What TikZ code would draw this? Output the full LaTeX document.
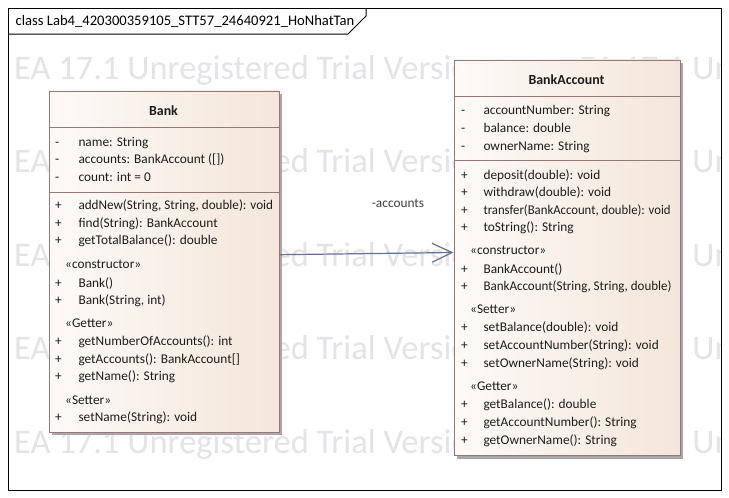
\documentclass[tikz,border=0pt]{standalone}
\usepackage{fontspec}
\usepackage{graphicx}
\setmainfont{Carlito}
\usetikzlibrary{arrows.meta,shadows}
\definecolor{bordc}{RGB}{150,120,118}
\definecolor{fillL}{RGB}{253,250,247}
\definecolor{fillR}{RGB}{244,230,218}
\definecolor{memc}{RGB}{28,28,30}
\definecolor{wmc}{RGB}{228,228,232}
\definecolor{linkc}{RGB}{100,114,148}
\definecolor{labc}{RGB}{60,62,75}
\definecolor{shadc}{RGB}{168,168,168}
\newcommand\memfont{\fontsize{13.33}{16}\selectfont}
\newcommand\namefont{\fontsize{13.9}{16}\selectfont\bfseries}
\newcommand\wmfont{\fontsize{34.5}{40}\selectfont}
\newcommand\titfont{\fontsize{14.6}{16}\selectfont}
\begin{document}
\begin{tikzpicture}[x=1pt,y=-1pt,
  mem/.style={anchor=base west, inner sep=0pt, font=\memfont, text=memc},
  cname/.style={anchor=base, inner sep=0pt, font=\namefont, text=memc},
  wm/.style={anchor=base west, inner sep=0pt, font=\wmfont, text=wmc},
  classbox/.style={draw=bordc, line width=0.9pt, left color=fillL, right color=fillR,
    inner sep=0pt, anchor=north west,
    drop shadow={shadow xshift=3.5pt, shadow yshift=-3.5pt, fill=shadc, opacity=1}},
  sepline/.style={draw=bordc, line width=0.9pt},
  link/.style={draw=linkc, line width=1.2pt, -{Straight Barb[length=20pt,width=19pt,line width=1.2pt]}}]
\useasboundingbox[fill=white] (0,0) rectangle (729,498);
% watermark
\begin{scope}
\clip (8,8) rectangle (721,490);
\foreach \i/\yy in {1/79.3,2/172.8,3/266.3,4/359.8,5/453.3}{
  \node[wm] (wma\i) at (14,\yy) {EA 17.1 Unregistered Trial Version};
  \node[wm] (wmb\i) at (579,\yy) {EA 17.1 Unregistered Trial Version};}
\end{scope}
% frame
\draw[line width=1pt] (8,8) rectangle (721,490);
\draw[line width=1pt] (8,34) -- (348,34) -- (366,16) -- (366,8);
\node[anchor=base west, inner sep=0pt, font=\titfont] (title) at (15.5,25.5) {class Lab4\_420300359105\_STT57\_24640921\_HoNhatTan};
% Bank
\node[classbox, minimum width=230pt, minimum height=341pt] (bank) at (48.5,90.5) {};
\draw[sepline] (bank.west |- 0,127.5) -- (bank.east |- 0,127.5);
\draw[sepline] (bank.west |- 0,192.5) -- (bank.east |- 0,192.5);
\node[cname] (bankname) at (163.5,115.7) {Bank};
\node[mem] (bs1) at (55,146) {-};   \node[mem] (ba1) at (78.3,146) {name: String};
\node[mem] (bs2) at (55,163.5) {-}; \node[mem] (ba2) at (78.3,163.5) {accounts: BankAccount ([])};
\node[mem] (bs3) at (55,181) {-};   \node[mem] (ba3) at (78.3,181) {count: int = 0};
\node[mem] (bs4) at (55,209.5) {+}; \node[mem] (bm1) at (78.3,209.5) {\scalebox{0.985}[1]{addNew(String, String, double): void}};
\node[mem] (bs5) at (55,227) {+};   \node[mem] (bm2) at (78.3,227) {find(String): BankAccount};
\node[mem] (bs6) at (55,244.5) {+}; \node[mem] (bm3) at (78.3,244.5) {getTotalBalance(): double};
\node[mem] (bst1) at (65,268.5) {«constructor»};
\node[mem] (bs7) at (55,287.3) {+}; \node[mem] (bc1) at (78.3,287.3) {Bank()};
\node[mem] (bs8) at (55,304.5) {+}; \node[mem] (bc2) at (78.3,304.5) {Bank(String, int)};
\node[mem] (bst2) at (65,327.7) {«Getter»};
\node[mem] (bs9) at (55,345.3) {+};  \node[mem] (bg1) at (78.3,345.3) {getNumberOfAccounts(): int};
\node[mem] (bs10) at (55,363) {+};   \node[mem] (bg2) at (78.3,363) {getAccounts(): BankAccount[]};
\node[mem] (bs11) at (55,380.8) {+}; \node[mem] (bg3) at (78.3,380.8) {getName(): String};
\node[mem] (bst3) at (65,404) {«Setter»};
\node[mem] (bs12) at (55,421.7) {+}; \node[mem] (bt1) at (78.3,421.7) {setName(String): void};
% BankAccount
\node[classbox, minimum width=226pt, minimum height=395.5pt] (acct) at (453.5,59.5) {};
\draw[sepline] (acct.west |- 0,96) -- (acct.east |- 0,96);
\draw[sepline] (acct.west |- 0,160) -- (acct.east |- 0,160);
\node[cname] (acctname) at (566.5,84) {BankAccount};
\node[mem] (as1) at (461,114.5) {-}; \node[mem] (aa1) at (483.3,114.5) {accountNumber: String};
\node[mem] (as2) at (461,132) {-};   \node[mem] (aa2) at (483.3,132) {balance: double};
\node[mem] (as3) at (461,150) {-};   \node[mem] (aa3) at (483.3,150) {ownerName: String};
\node[mem] (as4) at (461,179) {+};   \node[mem] (am1) at (483.3,179) {deposit(double): void};
\node[mem] (as5) at (461,196.5) {+}; \node[mem] (am2) at (483.3,196.5) {withdraw(double): void};
\node[mem] (as6) at (461,214) {+};   \node[mem] (am3) at (483.3,214) {\scalebox{0.955}[1]{transfer(BankAccount, double): void}};
\node[mem] (as7) at (461,231.5) {+}; \node[mem] (am4) at (483.3,231.5) {toString(): String};
\node[mem] (ast1) at (470,254.3) {«constructor»};
\node[mem] (as8) at (461,273.3) {+}; \node[mem] (ac1) at (483.3,273.3) {BankAccount()};
\node[mem] (as9) at (461,290.7) {+}; \node[mem] (ac2) at (483.3,290.7) {\scalebox{0.975}[1]{BankAccount(String, String, double)}};
\node[mem] (ast2) at (470,313.8) {«Setter»};
\node[mem] (as10) at (461,331.7) {+}; \node[mem] (at1) at (483.3,331.7) {setBalance(double): void};
\node[mem] (as11) at (461,349.5) {+}; \node[mem] (at2) at (483.3,349.5) {setAccountNumber(String): void};
\node[mem] (as12) at (461,367) {+};   \node[mem] (at3) at (483.3,367) {setOwnerName(String): void};
\node[mem] (ast3) at (470,390.5) {«Getter»};
\node[mem] (as13) at (461,408.5) {+}; \node[mem] (ag1) at (483.3,408.5) {getBalance(): double};
\node[mem] (as14) at (461,426) {+};   \node[mem] (ag2) at (483.3,426) {getAccountNumber(): String};
\node[mem] (as15) at (461,444) {+};   \node[mem] (ag3) at (483.3,444) {getOwnerName(): String};
% association
\draw[link] (bank.east |- 0,254.7) -- (acct.west |- 0,252.5);
\node[anchor=base west, inner sep=0pt, font=\memfont, text=labc] (lab) at (371.7,207) {-accounts};
\end{tikzpicture}
\end{document}
